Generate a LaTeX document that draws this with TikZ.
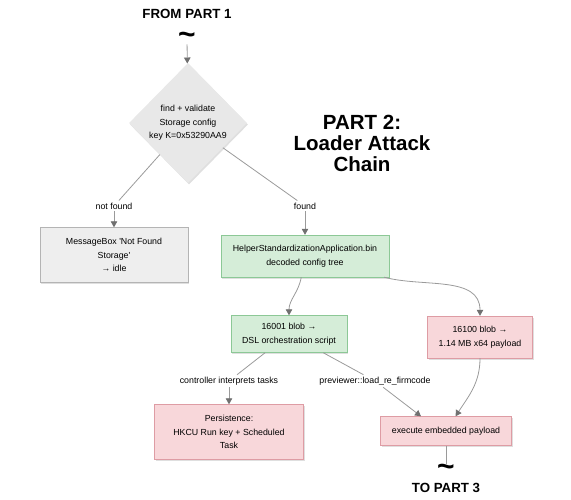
\documentclass[tikz,border=0pt]{standalone}
\usepackage{fontspec}
\setmainfont{Liberation Sans}
\usepackage{xcolor}
\usetikzlibrary{shapes.geometric, arrows.meta, shadows}
\definecolor{grayfill}{HTML}{EEEEEE}
\definecolor{diafill}{HTML}{E8E8E8}
\definecolor{graydraw}{HTML}{B4B4B4}
\definecolor{greenfill}{HTML}{D5EDD8}
\definecolor{greendraw}{HTML}{8CC896}
\definecolor{redfill}{HTML}{F8D7DA}
\definecolor{reddraw}{HTML}{DE9CA4}
\definecolor{linegray}{HTML}{9A9A9A}
\definecolor{tipgray}{HTML}{707070}
\tikzstyle{base} = [align=center, font=\fontsize{8.8}{13.5}\selectfont, drop shadow={shadow xshift=1pt, shadow yshift=-1.5pt, opacity=0.25}]
\tikzstyle{decision} = [base, diamond, aspect=1, minimum width=118pt, minimum height=120pt, inner sep=0pt, fill=diafill]
\tikzstyle{idle} = [base, rectangle, minimum width=148pt, minimum height=55pt, draw=graydraw, fill=grayfill]
\tikzstyle{good} = [base, rectangle, draw=greendraw, fill=greenfill]
\tikzstyle{bad} = [base, rectangle, draw=reddraw, fill=redfill]
\tikzstyle{lbl} = [align=center, font=\fontsize{8.8}{13.5}\selectfont, inner sep=2pt]
\tikzstyle{part} = [font=\fontsize{13.3}{14}\selectfont\bfseries]
\tikzstyle{wave} = [font=\fontsize{30}{30}\selectfont\bfseries, inner sep=0pt]
\tikzstyle{line} = [draw=linegray, line width=0.8pt]
\tikzstyle{arrow} = [line, -{Triangle[length=6pt, width=6.5pt, color=tipgray]}]

\begin{document}
\begin{tikzpicture}[x=1pt, y=-1pt]
    \useasboundingbox (0,0) rectangle (571,499);
    \node (from) [part] at (187,14) {FROM PART 1};
    \node (w1) [wave] at (187,38) {\textasciitilde};
    \node (check) [decision] at (188,123) {find + validate\\Storage config\\key K=0x53290AA9};
    \node (title) [align=center, font=\fontsize{20.5}{21}\selectfont\bfseries] at (362,143) {PART 2:\\Loader Attack\\Chain};
    \node (nf) [lbl] at (114,206) {not found};
    \node (msg) [idle] at (114,255) {MessageBox \textquotesingle Not Found\\Storage\textquotesingle\\\textrightarrow\ idle};
    \node (fnd) [lbl] at (305,206) {found};
    \node (helper) [good, minimum width=168pt, minimum height=42pt] at (305,256) {HelperStandardizationApplication.bin\\decoded config tree};
    \node (dsl) [good, minimum width=116pt, minimum height=37pt] at (289,334) {16001 blob \textrightarrow\\DSL orchestration script};
    \node (blob) [bad, minimum width=105pt, minimum height=42pt] at (480,337) {16100 blob \textrightarrow\\1.14 MB x64 payload};
    \node (ctrl) [lbl] at (229,381) {controller interprets tasks};
    \node (prev) [lbl] at (375,381) {previewer::load\_re\_firmcode};
    \node (persist) [bad, minimum width=149pt, minimum height=55pt] at (229,432) {Persistence:\\HKCU Run key + Scheduled\\Task};
    \node (exec) [bad, minimum width=131pt, minimum height=29pt] at (446,431) {execute embedded payload};
    \node (w2) [wave] at (446,470) {\textasciitilde};
    \node (to) [part] at (446,488) {TO PART 3};
    \draw [arrow] (w1) -- (check);
    \draw [line] (check) -- (nf);
    \draw [arrow] (nf) -- (msg);
    \draw [line] (check) -- (fnd);
    \draw [arrow] (fnd) -- (helper);
    \draw [arrow] (helper) to[out=-100, in=90] (dsl);
    \draw [arrow] (helper) to[out=-15, in=90] (blob);
    \draw [line] (dsl) -- (ctrl);
    \draw [arrow] (ctrl) -- (persist);
    \draw [line] (dsl) -- (prev);
    \draw [arrow] (prev) -- ([xshift=-25pt]exec.north);
    \draw [arrow] (blob) to[out=-90, in=57] (exec);
    \draw [line] (exec) -- (w2);
\end{tikzpicture}
\end{document}
